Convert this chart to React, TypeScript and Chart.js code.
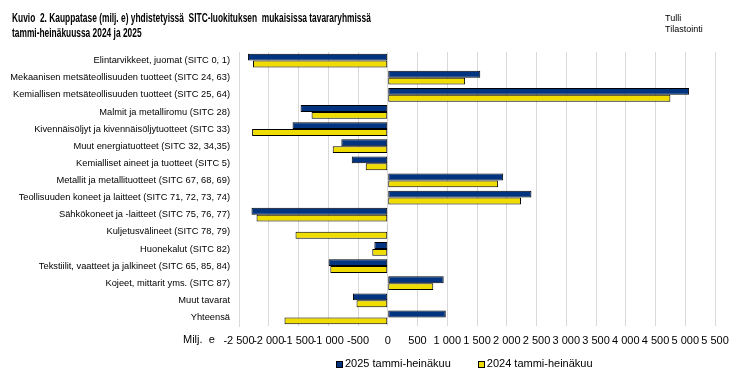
import React, { useEffect, useRef } from "react";
import { Chart, registerables } from "chart.js";

Chart.register(...registerables);

const categories = [
  "Elintarvikkeet, juomat (SITC 0, 1)",
  "Mekaanisen metsäteollisuuden tuotteet (SITC 24, 63)",
  "Kemiallisen metsäteollisuuden tuotteet (SITC 25, 64)",
  "Malmit ja metalliromu (SITC 28)",
  "Kivennäisöljyt ja kivennäisöljytuotteet (SITC 33)",
  "Muut energiatuotteet (SITC 32, 34,35)",
  "Kemialliset aineet ja tuotteet (SITC 5)",
  "Metallit ja metallituotteet (SITC 67, 68, 69)",
  "Teollisuuden koneet ja laitteet (SITC 71, 72, 73, 74)",
  "Sähkökoneet ja -laitteet (SITC 75, 76, 77)",
  "Kuljetusvälineet (SITC 78, 79)",
  "Huonekalut (SITC 82)",
  "Tekstiilit, vaatteet ja jalkineet (SITC 65, 85, 84)",
  "Kojeet, mittarit yms. (SITC 87)",
  "Muut tavarat",
  "Yhteensä",
];

const series2025 = [-2350, 1555, 5065, -1465, -1600, -780, -605, 1940, 2415, -2290, -15, -225, -995, 940, -585, 975];
const series2024 = [-2265, 1300, 4750, -1280, -2280, -925, -370, 1855, 2240, -2205, -1550, -260, -965, 765, -525, -1735];

const label2025 = "2025 tammi-heinäkuu";
const label2024 = "2024 tammi-heinäkuu";
const xMin = -2500;
const xMax = 5500;
const xStep = 500;

const blue = "#003380";
const yellow = "#efdc00";

function fmt(v: number): string {
  const s = Math.abs(v).toString().replace(/\B(?=(\d{3})+(?!\d))/g, " ");
  return (v < 0 ? "-" : "") + s;
}

export default function App() {
  const ref = useRef<HTMLCanvasElement | null>(null);
  useEffect(() => {
    document.body.style.margin = "0";
    const ctx = ref.current!;
    const chart = new Chart(ctx, {
      type: "bar",
      data: {
        labels: categories,
        datasets: [
          {
            label: label2025,
            data: series2025,
            backgroundColor: blue,
            borderColor: "#000",
            borderWidth: 1,
            borderSkipped: false,
            categoryPercentage: 0.8,
            barPercentage: 1,
          },
          {
            label: label2024,
            data: series2024,
            backgroundColor: yellow,
            borderColor: "#000",
            borderWidth: 1,
            borderSkipped: false,
            categoryPercentage: 0.8,
            barPercentage: 1,
          },
        ],
      },
      options: {
        indexAxis: "y",
        animation: false,
        responsive: false,
        maintainAspectRatio: false,
        layout: { padding: { left: 0, right: 22, top: 52, bottom: 28 } },
        plugins: {
          legend: { display: false },
          tooltip: { enabled: false },
          title: { display: false },
        },
        scales: {
          x: {
            min: xMin,
            max: xMax,
            ticks: {
              stepSize: xStep,
              autoSkip: false,
              maxRotation: 0,
              padding: 8,
              color: "#000",
              font: { family: "'Liberation Sans', Arial, sans-serif", size: 11 },
              callback: (v: any) => fmt(Number(v)),
            },
            grid: { color: "#d9d9d9", lineWidth: 1, drawTicks: false },
            border: { display: false },
            afterFit: (s: any) => {
              s.height = 24;
            },
          },
          y: {
            ticks: {
              padding: 9,
              color: "#000",
              autoSkip: false,
              font: { family: "'Liberation Sans', Arial, sans-serif", size: 9.3 },
            },
            grid: { display: false, drawTicks: false },
            border: { display: true, color: "#d9d9d9", width: 1 },
            afterFit: (s: any) => {
              s.width = 239;
            },
          },
        },
      },
    });
    return () => chart.destroy();
  }, []);

  const txt: React.CSSProperties = {
    position: "absolute",
    fontFamily: "'Liberation Sans', Arial, sans-serif",
    color: "#000",
    whiteSpace: "nowrap",
  };

  return (
    <div style={{ position: "relative", width: 737, height: 378, background: "#fff", overflow: "hidden" }}>
      <canvas ref={ref} width={737} height={378} style={{ position: "absolute", left: 0, top: 0 }} />
      <div
        style={{
          ...txt,
          left: 12,
          top: 10,
          fontSize: 13,
          fontWeight: "bold",
          lineHeight: "15px",
          transform: "scaleX(0.645)",
          transformOrigin: "0 0",
        }}
      >
        Kuvio&nbsp; 2. Kauppatase (milj. e) yhdistetyissä&nbsp; SITC-luokituksen&nbsp; mukaisissa tavararyhmissä
        <br />
        tammi-heinäkuussa 2024 ja 2025
      </div>
      <div style={{ ...txt, left: 665, top: 13, fontSize: 9, lineHeight: "11px" }}>
        Tulli
        <br />
        Tilastointi
      </div>
      <div style={{ ...txt, left: 183, top: 333, fontSize: 11 }}>Milj.&nbsp; e</div>
      <div style={{ ...txt, left: 336, top: 357, fontSize: 11, display: "flex", alignItems: "center" }}>
        <span style={{ display: "inline-block", width: 5, height: 5, background: blue, border: "1px solid #000", marginRight: 2, marginTop: 2 }} />
        <span>{label2025}</span>
        <span style={{ display: "inline-block", width: 5, height: 5, background: yellow, border: "1px solid #000", marginLeft: 27, marginRight: 2, marginTop: 2 }} />
        <span>{label2024}</span>
      </div>
    </div>
  );
}
